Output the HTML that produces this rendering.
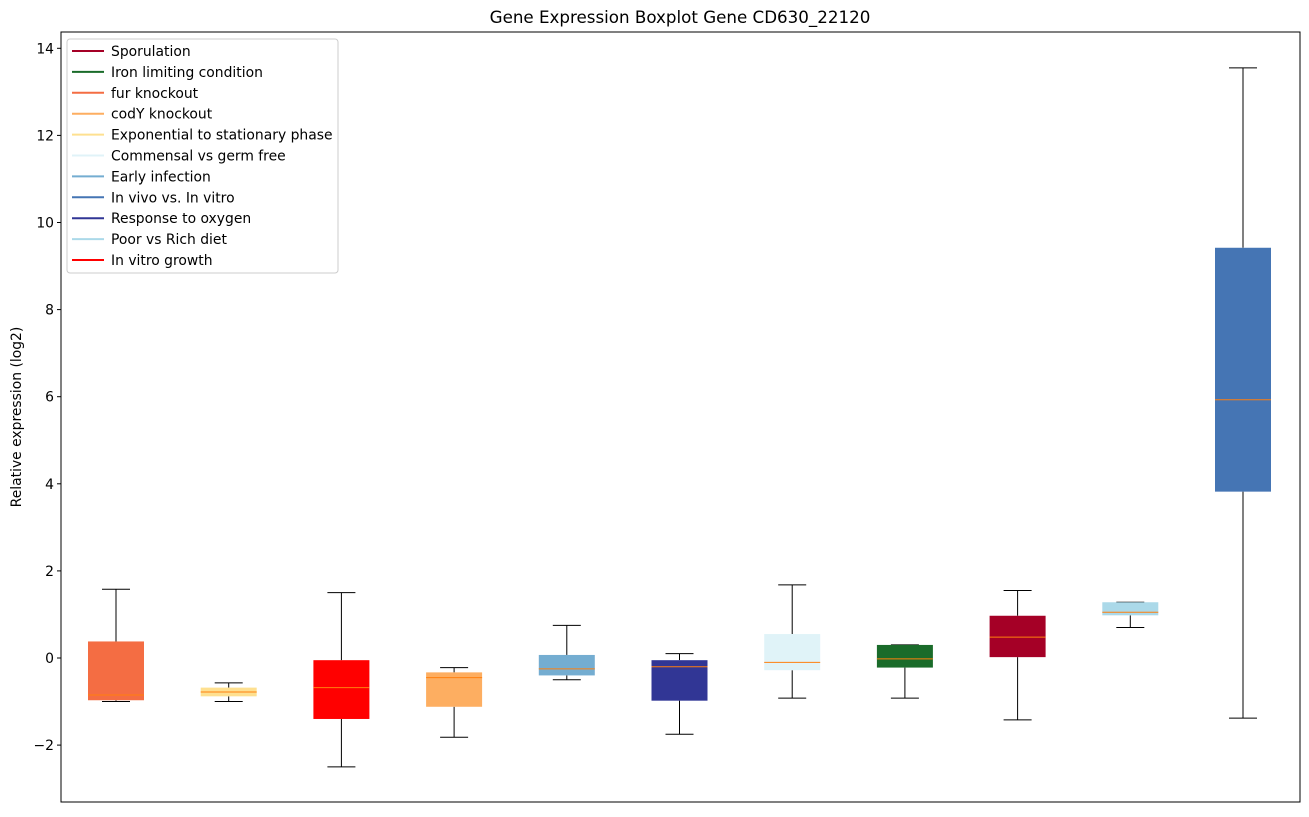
<!DOCTYPE html>
<html><head><meta charset="utf-8"><style>
body{margin:0;background:#fff;font-family:"Liberation Sans","DejaVu Sans",sans-serif;}
svg text{font-family:"DejaVu Sans","Liberation Sans",sans-serif;}
</style></head><body>
<svg id="c" width="1309" height="812" xmlns="http://www.w3.org/2000/svg"></svg>
<script>
const categories=["fur knockout","Exponential to stationary phase","In vitro growth","codY knockout","Early infection","Response to oxygen","Commensal vs germ free","Iron limiting condition","Sporulation","Poor vs Rich diet","In vivo vs. In vitro"];
const colors=["#f46d43","#fee090","#ff0000","#fdae61","#74add1","#313695","#e0f3f8","#1a6b2a","#a50026","#abd9e9","#4575b4"];
const whisLo=[-1.0,-1.0,-2.5,-1.82,-0.5,-1.75,-0.92,-0.92,-1.42,0.7,-1.38];
const q1=[-0.97,-0.88,-1.4,-1.12,-0.4,-0.98,-0.28,-0.22,0.02,0.98,3.82];
const med=[-0.85,-0.78,-0.68,-0.45,-0.25,-0.2,-0.1,-0.02,0.48,1.05,5.93];
const q3=[0.38,-0.68,-0.05,-0.33,0.07,-0.05,0.55,0.3,0.97,1.28,9.42];
const whisHi=[1.58,-0.57,1.5,-0.22,0.75,0.1,1.68,0.3,1.55,1.28,13.55];
const yTicks=[-2,0,2,4,6,8,10,12,14];
const legendLabels=["Sporulation","Iron limiting condition","fur knockout","codY knockout","Exponential to stationary phase","Commensal vs germ free","Early infection","In vivo vs. In vitro","Response to oxygen","Poor vs Rich diet","In vitro growth"];
const legendColors=["#a50026","#1a6b2a","#f46d43","#fdae61","#fee090","#e0f3f8","#74add1","#4575b4","#313695","#abd9e9","#ff0000"];
const svg=document.getElementById('c');const NS="http://www.w3.org/2000/svg";
const L=61,R=1300,T=32,B=802;
const y=v=>658-v*43.55;
const x=i=>116+i*112.7;
function el(t,a,p){const e=document.createElementNS(NS,t);for(const k in a)e.setAttribute(k,a[k]);(p||svg).appendChild(e);return e;}
let t=el('text',{x:680,y:23,'text-anchor':'middle','font-size':16.7});t.textContent="Gene Expression Boxplot Gene CD630_22120";

t=el('text',{x:21,y:417,'text-anchor':'middle','font-size':13.9,transform:'rotate(-90 21 417)'});t.textContent="Relative expression (log2)";

yTicks.forEach(v=>{const g=el('g',{});
el('line',{x1:L-4,x2:L,y1:y(v),y2:y(v),stroke:'#000'},g);
const tx=el('text',{x:L-7,y:y(v)+5,'text-anchor':'end','font-size':13.9},g);tx.textContent=v<0?'\u2212'+(-v):v;});
categories.forEach((c,i)=>{const g=el('g',{});
const cx=x(i),w=56;
el('line',{x1:cx,x2:cx,y1:y(whisHi[i]),y2:y(q3[i]),stroke:'#000'},g);
el('line',{x1:cx,x2:cx,y1:y(q1[i]),y2:y(whisLo[i]),stroke:'#000'},g);
el('line',{x1:cx-14,x2:cx+14,y1:y(whisHi[i]),y2:y(whisHi[i]),stroke:'#000'},g);
el('line',{x1:cx-14,x2:cx+14,y1:y(whisLo[i]),y2:y(whisLo[i]),stroke:'#000'},g);
el('rect',{x:cx-w/2,y:y(q3[i]),width:w,height:Math.max(1,y(q1[i])-y(q3[i])),fill:colors[i]},g);
el('line',{x1:cx-w/2,x2:cx+w/2,y1:y(med[i]),y2:y(med[i]),stroke:'#ff7f0e'},g);});
el('rect',{x:L,y:T,width:R-L,height:B-T,fill:'none',stroke:'#000'});
const lg=el('g',{});
el('rect',{x:67,y:39,width:271,height:234,fill:'#fff',stroke:'#ccc',rx:3},lg);
legendLabels.forEach((s,i)=>{const g=el('g',{},lg);
const yy=51+i*20.9;el('line',{x1:72,x2:104,y1:yy,y2:yy,stroke:legendColors[i],'stroke-width':2},g);
const tx=el('text',{x:111,y:yy+5,'font-size':13.9},g);tx.textContent=s;});
</script></body></html>
